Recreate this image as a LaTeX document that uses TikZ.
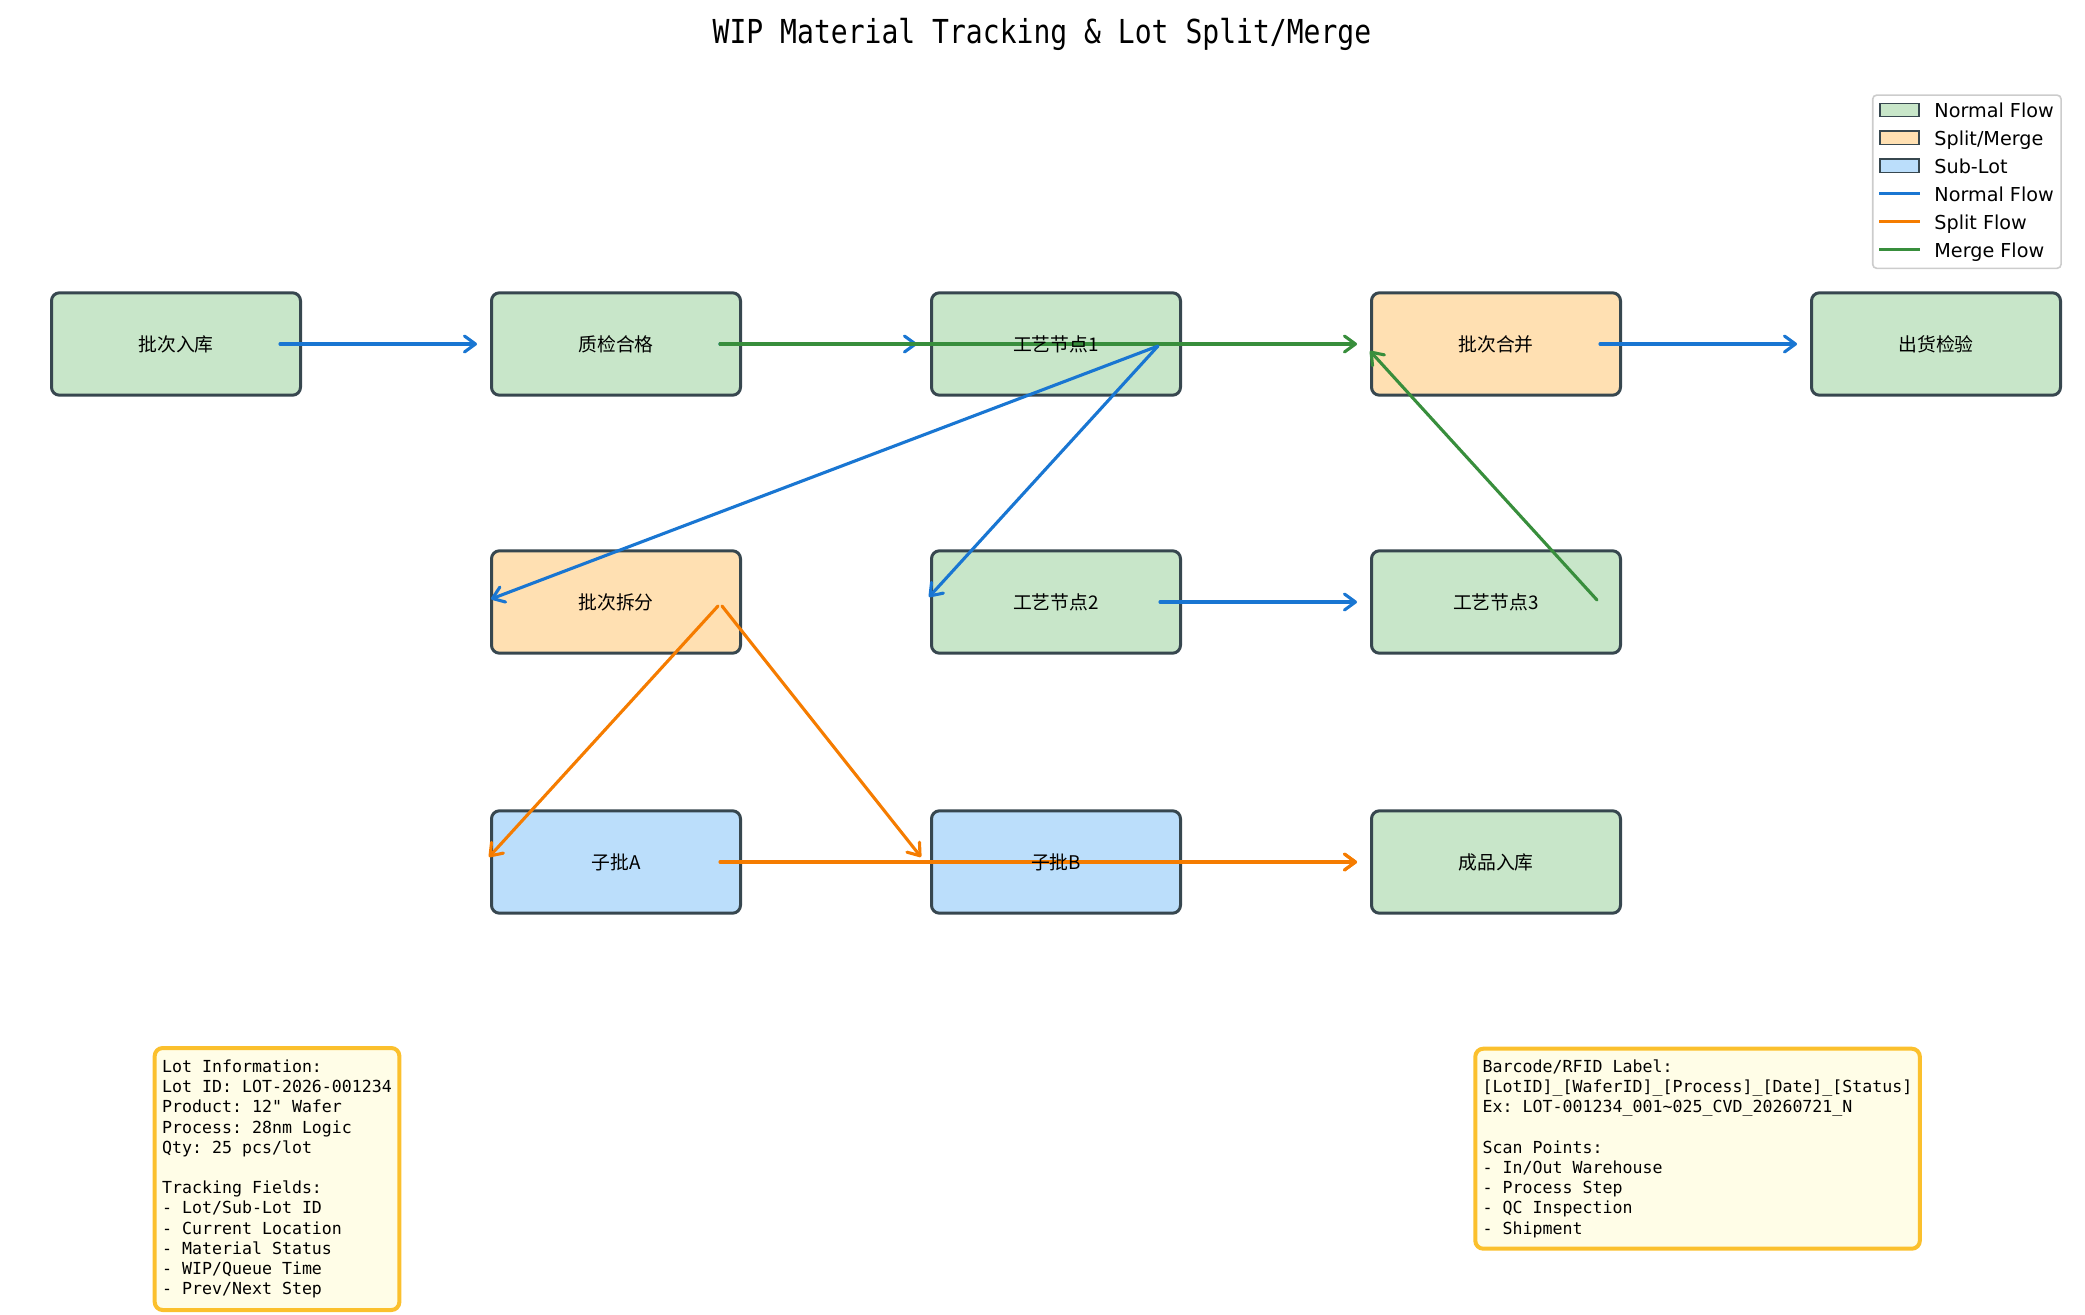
\documentclass[tikz,border=0pt]{standalone}
\usepackage{fontspec}
\setmainfont{DejaVu Sans}
\setmonofont{DejaVu Sans Mono}
\newfontfamily\cjkfont{Noto Sans CJK SC}
\newfontfamily\titlefont[FakeStretch=0.85]{DejaVu Sans Mono}
\usetikzlibrary{arrows.meta,calc}
\definecolor{nfill}{HTML}{C8E6C9}
\definecolor{sfill}{HTML}{FFE0B2}
\definecolor{bfill}{HTML}{BBDEFB}
\definecolor{boxedge}{HTML}{37474F}
\definecolor{cblue}{HTML}{1976D2}
\definecolor{corange}{HTML}{F57C00}
\definecolor{cgreen}{HTML}{388E3C}
\definecolor{infoedge}{HTML}{FBC02D}
\definecolor{infofill}{HTML}{FFFDE7}
\definecolor{legedge}{HTML}{CCCCCC}
\begin{document}
\begin{tikzpicture}[x=0.5pt,y=-0.5pt,
  procbox/.style={draw=boxedge, line width=1.5pt, rounded corners=4pt,
    minimum width=124.5pt, minimum height=51.2pt, inner sep=0pt},
  lbl/.style={font=\cjkfont\fontsize{9.4}{11}\selectfont, text=black, inner sep=0pt},
  flow/.style={line width=1.55pt, line cap=round,
    -{Straight Barb[length=5.5pt,width=8pt,line cap=round,line join=round]}},
  bflow/.style={flow, draw=cblue},
  oflow/.style={flow, draw=corange},
  gflow/.style={flow, draw=cgreen},
  infobox/.style={draw=infoedge, fill=infofill, line width=2pt, rounded corners=4pt,
    align=left, inner xsep=3.7pt, inner ysep=0pt, anchor=north west,
    font=\ttfamily\fontsize{8.3}{10.1}\selectfont},
  legpatch/.style={draw=boxedge, line width=0.75pt, minimum width=19.5pt,
    minimum height=6.7pt, inner sep=0pt},
  legtext/.style={anchor=base west, inner sep=0pt, font=\fontsize{9.6}{12}\selectfont},
  legline/.style={line width=1.35pt}
]
\useasboundingbox (0,0) rectangle (2085,1314);

% title
\node[anchor=base, inner sep=0pt, font=\titlefont\fontsize{16.5}{20}\selectfont] (title)
  at (1042,43) {WIP Material Tracking \& Lot Split/Merge};

% boxes
\node[procbox, fill=nfill] (n1) at (176,344) {};
\node[procbox, fill=nfill] (n2) at (616,344) {};
\node[procbox, fill=nfill] (n3) at (1056,344) {};
\node[procbox, fill=sfill] (n4) at (1496,344) {};
\node[procbox, fill=nfill] (n5) at (1936,344) {};
\node[procbox, fill=sfill] (n6) at (616,602) {};
\node[procbox, fill=nfill] (n7) at (1056,602) {};
\node[procbox, fill=nfill] (n8) at (1496,602) {};
\node[procbox, fill=bfill] (n9) at (616,862) {};
\node[procbox, fill=bfill] (n10) at (1056,862) {};
\node[procbox, fill=nfill] (n11) at (1496,862) {};

% connectors
\draw[bflow] ($(n1.center)+(104,0)$) -- ($(n2.center)+(-139,0)$);
\draw[bflow] ($(n2.center)+(104,0)$) -- ($(n3.center)+(-139,0)$);
\draw[gflow] ($(n2.center)+(104,0)$) -- ($(n4.center)+(-139,0)$);
\draw[bflow] ($(n3.center)+(102,2)$) -- ($(n6.center)+(-125,-3)$);
\draw[bflow] ($(n3.center)+(102,2)$) -- ($(n7.center)+(-127,-5)$);
\draw[oflow] ($(n6.center)+(102,4)$) -- ($(n9.center)+(-127,-5)$);
\draw[oflow] ($(n6.center)+(106,4)$) -- ($(n10.center)+(-135,-5)$);
\draw[oflow] ($(n9.center)+(104,0)$) -- ($(n11.center)+(-139,0)$);
\draw[oflow] ($(n10.center)+(104,0)$) -- ($(n11.center)+(-139,0)$);
\draw[bflow] ($(n7.center)+(104,0)$) -- ($(n8.center)+(-139,0)$);
\draw[gflow] ($(n8.center)+(101,-2)$) -- ($(n4.center)+(-126,7)$);
\draw[bflow] ($(n4.center)+(104,0)$) -- ($(n5.center)+(-139,0)$);

% labels
\node[lbl] (t1) at (n1.center) {批次入库};
\node[lbl] (t2) at (n2.center) {质检合格};
\node[lbl] (t3) at (n3.center) {工艺节点1};
\node[lbl] (t4) at (n4.center) {批次合并};
\node[lbl] (t5) at (n5.center) {出货检验};
\node[lbl] (t6) at (n6.center) {批次拆分};
\node[lbl] (t7) at (n7.center) {工艺节点2};
\node[lbl] (t8) at (n8.center) {工艺节点3};
\node[lbl] (t9) at (n9.center) {子批A};
\node[lbl] (t10) at (n10.center) {子批B};
\node[lbl] (t11) at (n11.center) {成品入库};

% legend
\node[draw=legedge, fill=white, line width=0.8pt, rounded corners=2pt,
  minimum width=94.2pt, minimum height=86.6pt, inner sep=0pt] (legend) at (1966.9,181.7) {};
\node[legpatch, fill=nfill] (lp1) at (1899.5,110) {};
\node[legpatch, fill=sfill] (lp2) at (1899.5,137.8) {};
\node[legpatch, fill=bfill] (lp3) at (1899.5,165.8) {};
\coordinate (la1) at (1879,193.7); \coordinate (lb1) at (1920,193.7);
\coordinate (la2) at (1879,221.7); \coordinate (lb2) at (1920,221.7);
\coordinate (la3) at (1879,249.7); \coordinate (lb3) at (1920,249.7);
\draw[legline, cblue] (la1) -- (lb1);
\draw[legline, corange] (la2) -- (lb2);
\draw[legline, cgreen] (la3) -- (lb3);
\node[legtext] (lt1) at (1934,117.3) {Normal Flow};
\node[legtext] (lt2) at (1934,145.1) {Split/Merge};
\node[legtext] (lt3) at (1934,173.1) {Sub-Lot};
\node[legtext] (lt4) at (1934,201) {Normal Flow};
\node[legtext] (lt5) at (1934,229) {Split Flow};
\node[legtext] (lt6) at (1934,257) {Merge Flow};

% info boxes
\node[infobox, minimum height=131pt] (lotinfo) at (152.7,1046) {Lot Information:\\
Lot ID: LOT-2026-001234\\
Product: 12" Wafer\\
Process: 28nm Logic\\
Qty: 25 pcs/lot\\
\mbox{}\\
Tracking Fields:\\
- Lot/Sub-Lot ID\\
- Current Location\\
- Material Status\\
- WIP/Queue Time\\
- Prev/Next Step};
\node[infobox, minimum height=100pt] (labelinfo) at (1473.3,1046.7) {Barcode/RFID Label:\\
{[}LotID]\_[WaferID]\_[Process]\_[Date]\_[Status]\\
Ex: LOT-001234\_001\textasciitilde 025\_CVD\_20260721\_N\\
\mbox{}\\
Scan Points:\\
- In/Out Warehouse\\
- Process Step\\
- QC Inspection\\
- Shipment};
\end{tikzpicture}
\end{document}
